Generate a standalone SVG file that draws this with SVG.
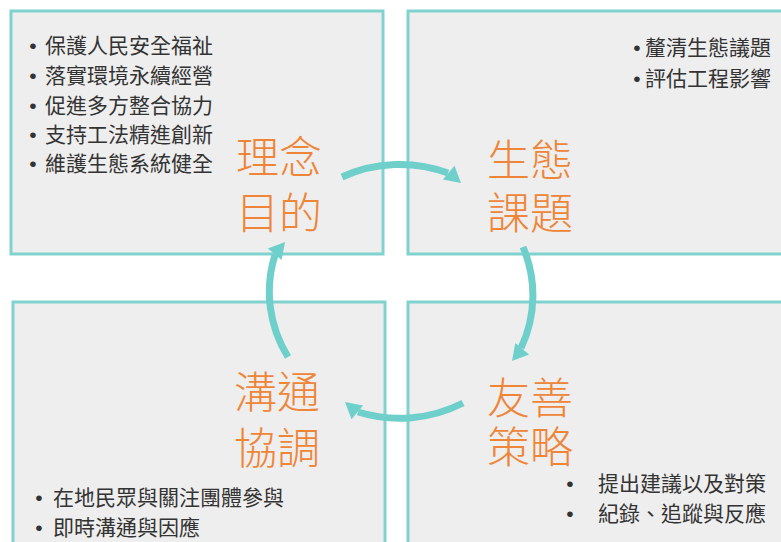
<svg xmlns="http://www.w3.org/2000/svg" width="781" height="542" viewBox="0 0 781 542">
<style>
.box{fill:#eeeeee;stroke:#80d2cf;stroke-width:3}
.item{font-family:"Noto Sans CJK TC","Noto Sans CJK SC",sans-serif;font-size:21px;fill:#333333}
.dot{font-family:"Liberation Sans",sans-serif;font-size:21px;fill:#333333;text-anchor:middle}
.title{font-family:"Noto Sans CJK TC","Noto Sans CJK SC",sans-serif;font-size:43px;font-weight:300;fill:#ee8538}
.arc{fill:none;stroke:#6fcfcb;stroke-width:7}
.head{fill:#6fcfcb}
</style>
<rect width="781" height="542" fill="#ffffff"/>
<g id="node-purpose">
<rect class="box" x="11" y="11" width="372" height="243"/>
<text class="dot" x="33" y="53">•</text>
<text class="item" x="45" y="53">保護人民安全福祉</text>
<text class="dot" x="33" y="83">•</text>
<text class="item" x="45" y="83">落實環境永續經營</text>
<text class="dot" x="33" y="113">•</text>
<text class="item" x="45" y="113">促進多方整合協力</text>
<text class="dot" x="33" y="142">•</text>
<text class="item" x="45" y="142">支持工法精進創新</text>
<text class="dot" x="33" y="171">•</text>
<text class="item" x="45" y="171">維護生態系統健全</text>
<text class="title" x="236" y="173">理念<tspan x="236" dy="56">目的</tspan></text>
</g>
<g id="node-ecology">
<rect class="box" x="408" y="11" width="400" height="243"/>
<text class="dot" x="637" y="55">•</text>
<text class="item" x="645" y="55">釐清生態議題</text>
<text class="dot" x="637" y="86">•</text>
<text class="item" x="645" y="86">評估工程影響</text>
<text class="title" x="487" y="176">生態<tspan x="487" dy="53">課題</tspan></text>
</g>
<g id="node-communication">
<rect class="box" x="13" y="302" width="372" height="260"/>
<text class="dot" x="39" y="505">•</text>
<text class="item" x="53" y="505">在地民眾與關注團體參與</text>
<text class="dot" x="39" y="535">•</text>
<text class="item" x="53" y="535">即時溝通與因應</text>
<text class="title" x="234" y="408">溝通<tspan x="234" dy="56">協調</tspan></text>
</g>
<g id="node-strategy">
<rect class="box" x="408" y="302" width="400" height="260"/>
<text class="dot" x="570" y="491">•</text>
<text class="item" x="598" y="491">提出建議以及對策</text>
<text class="dot" x="570" y="521">•</text>
<text class="item" x="598" y="521">紀錄、追蹤與反應</text>
<text class="title" x="487" y="414">友善<tspan x="487" dy="49">策略</tspan></text>
</g>
<g id="connectors">
<path class="arc" d="M342,177 A134,128 0 0 1 448,173"/>
<polygon class="head" points="461,183 442.9,179.6 454.5,165.8"/>
<path class="arc" d="M523,247 A134,128 0 0 1 521,348"/>
<polygon class="head" points="512,361 515.3,342.9 529.1,354.5"/>
<path class="arc" d="M463,403 A134,128 0 0 1 358,412"/>
<polygon class="head" points="345,402 363.1,405.4 351.5,419.2"/>
<path class="arc" d="M288,357 A134,128 0 0 1 275,255"/>
<polygon class="head" points="285,242 281.7,260.1 267.9,248.5"/>
</g>
</svg>
